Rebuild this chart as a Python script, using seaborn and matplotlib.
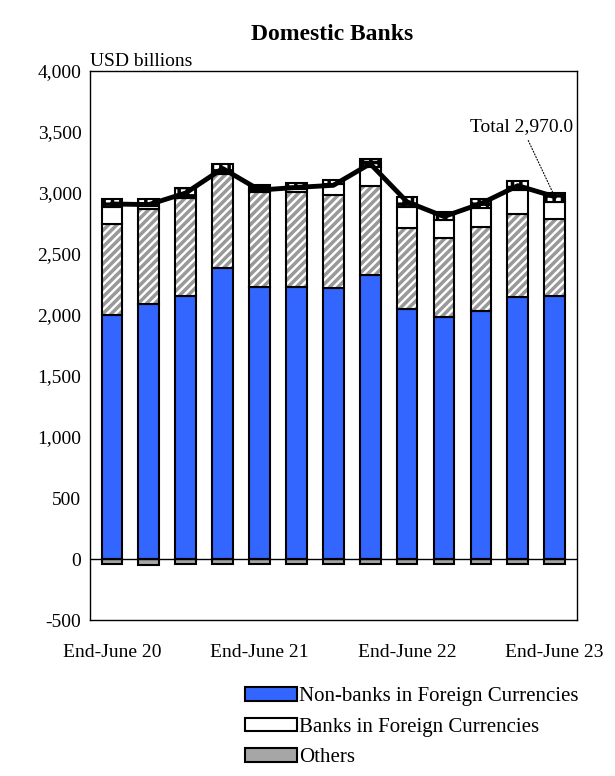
import numpy as np
import pandas as pd
import seaborn as sns
import matplotlib.pyplot as plt

sns.set_theme(style="white")
plt.rcParams['font.family'] = ['Liberation Serif', 'DejaVu Serif']
plt.rcParams['hatch.linewidth'] = 2.5
plt.rcParams['text.color'] = 'black'
plt.rcParams['xtick.color'] = 'black'
plt.rcParams['ytick.color'] = 'black'

periods = ["2020Q2","2020Q3","2020Q4","2021Q1","2021Q2","2021Q3","2021Q4",
           "2022Q1","2022Q2","2022Q3","2022Q4","2023Q1","2023Q2"]
tick_labels = {0: "End-June 20", 4: "End-June 21", 8: "End-June 22", 12: "End-June 23"}
nonbanks_fx = [1998, 2094, 2154, 2386, 2231, 2231, 2222, 2329, 2051, 1985, 2029, 2151, 2154]
nonbanks_yen = [748, 777, 804, 769, 774, 774, 764, 725, 659, 643, 692, 679, 633]
banks_fx = [139, 19, 19, 16, 16, 27, 87, 161, 175, 153, 156, 197, 139]
banks_yen = [68, 60, 63, 68, 41, 54, 30, 63, 82, 63, 74, 73, 74]
others = [-43, -45, -40, -38, -38, -40, -40, -38, -40, -37, -38, -40, -40]
total = [2910, 2905, 3000, 3201, 3024, 3046, 3063, 3240, 2927, 2807, 2913, 3060, 2970.0]

df = pd.DataFrame(dict(p=periods, a=nonbanks_fx, b=nonbanks_yen, c=banks_fx, d=banks_yen, o=others))
b1 = np.array(nonbanks_fx)
b2 = b1 + np.array(nonbanks_yen)
b3 = b2 + np.array(banks_fx)

fig = plt.figure(figsize=(6.15, 7.76), dpi=100)
ax = fig.add_axes([0.146, 0.201, 0.792, 0.7075])
w = 0.56
kw = dict(width=w, edgecolor='black', linewidth=1.5, ax=ax, saturation=1)
sns.barplot(data=df, x='p', y='a', color='#3366FF', label='Non-banks in Foreign Currencies', **kw)
sns.barplot(data=df, x='p', y='b', color='white', bottom=b1, hatch='////', width=w,
            edgecolor='#999999', linewidth=0, ax=ax, saturation=1)
n0 = len(ax.patches)
sns.barplot(data=df, x='p', y='b', color='white', bottom=b1, **kw)
for p in ax.patches[n0:]:
    p.set_facecolor('none')
sns.barplot(data=df, x='p', y='c', color='white', bottom=b2, label='Banks in Foreign Currencies', **kw)
sns.barplot(data=df, x='p', y='d', color='white', bottom=b3, hatch='++', **kw)
sns.barplot(data=df, x='p', y='o', color='#A6A6A6', label='Others', **kw)
sns.lineplot(x=np.arange(len(periods)), y=total, color='black', lw=3.5, ax=ax, zorder=5)

h, l = ax.get_legend_handles_labels()
if ax.get_legend() is not None:
    ax.get_legend().remove()

ax.set_ylim(-500, 4000)
ax.set_xlim(-0.6, 12.6)
ax.set_yticks(range(-500, 4001, 500))
ax.set_yticklabels([f"{v:,}" for v in range(-500, 4001, 500)], fontsize=14)
ax.set_xticks(list(tick_labels.keys()))
ax.set_xticklabels(list(tick_labels.values()), fontsize=14)
ax.tick_params(axis='x', length=0, pad=17)
ax.tick_params(axis='y', length=0, pad=6)
ax.axhline(0, color='black', lw=1)
ax.set_xlabel(''); ax.set_ylabel('')
for s in ax.spines.values():
    s.set_color('black'); s.set_linewidth(1)
ax.text(0.0, 1.002, "USD billions", transform=ax.transAxes, fontsize=14, va='bottom', ha='left')
fig.text(0.54, 0.955, "Domestic Banks", fontsize=17, fontweight='bold', ha='center', va='center')
ax.annotate(f"Total {total[-1]:,.1f}", xy=(12, total[-1]), xytext=(11.1, 3510),
            fontsize=14, ha='center', arrowprops=dict(arrowstyle='-', ls=':', color='black', lw=0.8))

fig.legend(h[:3], l[:3], loc='upper left', bbox_to_anchor=(0.385, 0.125), frameon=False,
           fontsize=15, handlelength=2.5, handleheight=0.6, handletextpad=0.1, labelspacing=0.55,
           borderaxespad=0)
fig.savefig('out.png', dpi=100)
